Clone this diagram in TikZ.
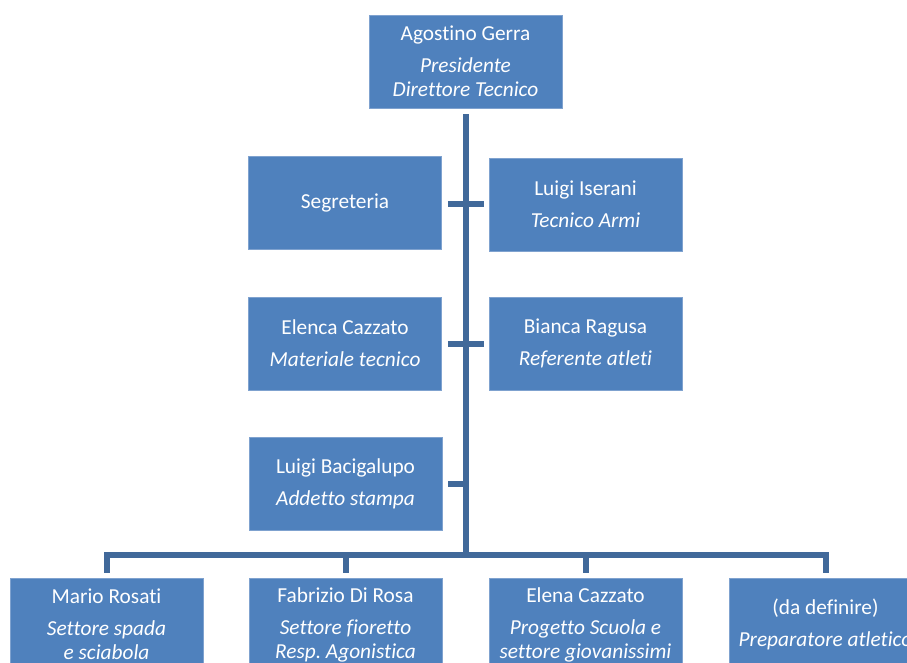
\documentclass[tikz,border=0pt]{standalone}
\usepackage{fontspec}
\setmainfont{Carlito}[Ligatures=NoCommon]
\frenchspacing
\definecolor{boxblue}{HTML}{4F81BD}
\definecolor{boxedge}{HTML}{7FA2CF}
\definecolor{connblue}{HTML}{41699A}
\begin{document}
\begin{tikzpicture}[x=0.75pt,y=-0.75pt,
  box/.style={rectangle, fill=boxblue, draw=boxedge, line width=0.4pt,
    minimum width=144.75pt, minimum height=69.75pt, inner sep=0pt,
    text=white, align=center, font=\fontsize{16}{18}\selectfont},
  conn/.style={draw=connblue, line width=4.5pt, line join=miter}]
\useasboundingbox (0,0) rectangle (907,663);
\clip (0,0) rectangle (907,663);
\node[box] (top) at (465.5,61.5) {Agostino Gerra\\[6pt]\textit{Presidente}\\\textit{Direttore Tecnico}};
\node[box] (seg) at (345,202.5) {Segreteria};
\node[box] (iser) at (585.5,204.5) {Luigi Iserani\\[6pt]\textit{Tecnico Armi}};
\node[box] (elenca) at (345,343.5) {Elenca Cazzato\\[6pt]\textit{Materiale tecnico}};
\node[box] (bianca) at (585.5,343.5) {Bianca Ragusa\\[6pt]\textit{Referente atleti}};
\node[box] (bac) at (345.5,484) {Luigi Bacigalupo\\[6pt]\textit{Addetto stampa}};
\node[box] (b1) at (106.5,624.5) {Mario Rosati\\[6pt]\textit{Settore spada}\\\textit{e sciabola}};
\node[box] (b2) at (345.5,624.5) {Fabrizio Di Rosa\\[6pt]\textit{Settore fioretto}\\\textit{Resp. Agonistica}};
\node[box] (b3) at (585.5,624.5) {Elena Cazzato\\[6pt]\textit{Progetto Scuola e}\\\textit{settore giovanissimi}};
\node[box] (b4) at (825.5,624.5) {(da definire)\\[6pt]\textit{Preparatore atletico}};
\coordinate (j) at (465.5,555);
\draw[conn, shorten <=4.5pt] (top.south) -- (j);
\draw[conn, shorten <=4.5pt, shorten >=3.75pt] (seg.east |- iser.west) -- (iser.west);
\draw[conn, shorten <=4.5pt, shorten >=3.75pt] (elenca.east) -- (bianca.west);
\draw[conn, shorten <=4.5pt] (bac.east) -- (bac.east -| j);
\draw[conn, shorten <=3.75pt, shorten >=3.75pt] (b1.north) -- (j -| b1.north) -- (j -| b4.north) -- (b4.north);
\draw[conn, shorten >=3.75pt] (j -| b2.north) -- (b2.north);
\draw[conn, shorten >=3.75pt] (j -| b3.north) -- (b3.north);
\end{tikzpicture}
\end{document}
